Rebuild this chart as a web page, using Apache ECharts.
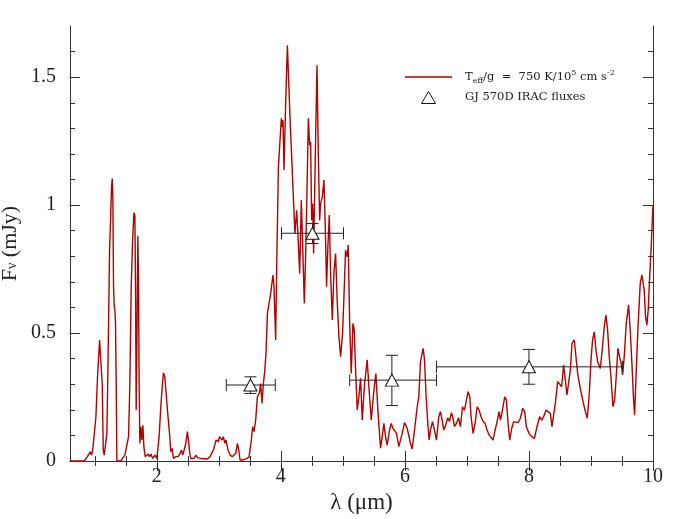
<!DOCTYPE html>
<html>
<head>
<meta charset="utf-8">
<script src="https://cdn.jsdelivr.net/npm/echarts@6/dist/echarts.min.js"></script>
<style>
  html, body { margin: 0; padding: 0; background: #fff; }
  #chart { width: 694px; height: 519px; }
</style>
</head>
<body>
<div id="chart"></div>
<script>
// model spectrum (micron, mJy)
const wlJH = [0.6,0.83,0.88,0.926,0.948,0.969,0.991,1.018,1.044,1.077,1.098,1.12,1.136,1.152,1.173,1.195,1.216,1.238,1.254,1.27,1.281,1.291,1.302,1.313,1.324,1.334,1.345,1.356,1.42,1.447,1.485,1.517,1.544,1.565,1.587,1.608,1.63,1.646,1.656,1.667,1.678,1.694,1.705,1.715,1.726,1.742,1.758,1.775,1.791,1.812,1.839,1.86,1.882,1.903,1.935,1.968,2.0];
const fJH = [0,0,0.017,0.036,0.023,0.05,0.056,0.173,0.33,0.473,0.479,0.30,0.043,0.023,0.017,0.108,0.434,0.824,0.941,1.072,1.104,1.03,0.681,0.603,0.59,0.538,0.30,0,0,0.01,0.023,0.017,0.095,0.30,0.681,0.85,0.97,0.96,0.694,0.199,0.434,0.88,0.694,0.30,0.069,0.134,0.082,0.14,0.056,0.017,0.01,0.027,0.017,0.027,0.01,0.023,0.01];

const wlKL = [2.037,2.064,2.091,2.107,2.128,2.15,2.171,2.187,2.209,2.225,2.247,2.268,2.306,2.343,2.375,2.397,2.418,2.44,2.467,2.493,2.515,2.531,2.547,2.574,2.601,2.628,2.655,2.708,2.762,2.815,2.858,2.885,2.912,2.934,2.955,2.977,2.993,3.009,3.03,3.052,3.073,3.095,3.116,3.148,3.181,3.218,3.245,3.272,3.299,3.32,3.342,3.379,3.433,3.486,3.503,3.524,3.545,3.567,3.594,3.621,3.653,3.674,3.696,3.717,3.739,3.76];
const fKL = [0.095,0.212,0.303,0.345,0.329,0.264,0.199,0.206,0.095,0.036,0.049,0.01,0.017,0.017,0.03,0.043,0.023,0.043,0.069,0.115,0.069,0.03,0.01,0.017,0.01,0.023,0.013,0.01,0.009,0.008,0.017,0.03,0.043,0.062,0.082,0.089,0.075,0.095,0.102,0.082,0.095,0.069,0.082,0.043,0.023,0.017,0.01,0.03,0.069,0.043,0.004,0.004,0.008,0.014,0.017,0.082,0.134,0.115,0.16,0.251,0.264,0.303,0.225,0.30,0.349,0.42];

const wlM = [3.783,3.809,3.836,3.873,3.889,3.916,3.932,3.96,3.98,4.008,4.024,4.034,4.05,4.077,4.105,4.12,4.147,4.168,4.21,4.227,4.254,4.275,4.303,4.33,4.346,4.378,4.4,4.427,4.443,4.464,4.48,4.496,4.512,4.528,4.556,4.582,4.604,4.625,4.641,4.668,4.694,4.716,4.737,4.758,4.781,4.802,4.829,4.855,4.882,4.91,4.936,4.963,4.995];
const fM = [0.577,0.583,0.655,0.727,0.681,0.473,0.746,1.15,1.15,1.339,1.306,1.332,1.137,1.397,1.625,1.618,1.345,1.345,0.98,0.889,0.98,0.889,0.733,1.02,1.02,0.616,0.811,1.124,1.339,1.234,1.247,0.941,1.006,0.811,1.202,1.547,1.202,0.941,1.006,1.032,1.098,0.915,0.681,0.837,0.961,0.733,0.551,0.733,0.811,0.616,0.486,0.408,0.499];

const wlMid = [5.017,5.043,5.07,5.086,5.108,5.135,5.162,5.183,5.205,5.231,5.258,5.285,5.312,5.35,5.392,5.419,5.457,5.5,5.532,5.564,5.607,5.634,5.661,5.688,5.714,5.752,5.779,5.806,5.833,5.865,5.902,5.929,5.956,5.994,6.036,6.063,6.09,6.117,6.155,6.198,6.224,6.251,6.294,6.316,6.342,6.369,6.391,6.412,6.445,6.477,6.509,6.546,6.573,6.6,6.627,6.659,6.691,6.718,6.75,6.777,6.799,6.831,6.863,6.895,6.928,6.96,6.992,7.019,7.046,7.067,7.099,7.132,7.164,7.196,7.228,7.26,7.293,7.325,7.357,7.389,7.421,7.454,7.486];
const fMid = [0.642,0.824,0.798,0.844,0.551,0.342,0.538,0.512,0.355,0.199,0.251,0.323,0.16,0.303,0.395,0.29,0.16,0.277,0.342,0.199,0.05,0.095,0.147,0.095,0.062,0.121,0.147,0.128,0.134,0.108,0.056,0.05,0.108,0.15,0.128,0.121,0.069,0.047,0.121,0.212,0.251,0.388,0.44,0.395,0.251,0.147,0.082,0.121,0.154,0.121,0.082,0.173,0.193,0.16,0.121,0.141,0.169,0.154,0.189,0.167,0.134,0.147,0.169,0.134,0.212,0.199,0.238,0.271,0.251,0.173,0.108,0.147,0.212,0.199,0.173,0.154,0.147,0.121,0.102,0.095,0.082,0.121,0.154];

const wlLong = [7.518,7.54,7.572,7.609,7.636,7.663,7.69,7.722,7.754,7.786,7.824,7.862,7.899,7.931,7.958,8.001,8.044,8.087,8.13,8.173,8.205,8.237,8.275,8.302,8.345,8.371,8.398,8.425,8.463,8.495,8.527,8.559,8.586,8.613,8.645,8.667,8.694,8.731,8.758,8.785,8.817,8.855,8.897,8.94,8.973,9.0,9.026,9.053,9.08,9.107,9.15,9.182,9.214,9.241,9.268,9.295,9.322,9.354,9.381,9.407,9.434,9.461,9.488,9.509,9.536,9.569,9.606,9.633,9.66,9.687,9.703,9.724,9.756,9.794,9.821,9.837,9.858,9.88,9.901,9.923,9.944,9.971,10.0];
const fLong = [0.193,0.16,0.199,0.251,0.238,0.147,0.082,0.128,0.154,0.154,0.15,0.167,0.206,0.193,0.134,0.108,0.095,0.088,0.134,0.173,0.16,0.173,0.199,0.206,0.186,0.134,0.134,0.225,0.31,0.316,0.29,0.375,0.316,0.258,0.251,0.355,0.46,0.473,0.407,0.342,0.297,0.251,0.206,0.167,0.264,0.395,0.473,0.505,0.434,0.388,0.362,0.434,0.525,0.57,0.512,0.407,0.329,0.212,0.238,0.329,0.44,0.407,0.381,0.336,0.407,0.538,0.609,0.512,0.381,0.238,0.18,0.316,0.512,0.694,0.727,0.733,0.668,0.564,0.531,0.59,0.707,0.837,1.0];

// GJ 570D IRAC photometry
const iracWl = [3.51, 4.51, 5.79, 8.0];
const iracWlLo = [3.12, 4.01, 5.11, 6.51];
const iracWlHi = [3.91, 5.01, 6.51, 9.51];
const iracFlux = [0.297, 0.89, 0.316, 0.368];
const iracFluxLo = [0.264, 0.85, 0.217, 0.30];
const iracFluxHi = [0.329, 0.928, 0.413, 0.436];

// ticks
const xMajor = [2, 4, 6, 8, 10];
const xMinor = [1, 1.5, 2.5, 3, 3.5, 4.5, 5, 5.5, 6.5, 7, 7.5, 8.5, 9, 9.5];
const yMajor = [0, 0.5, 1, 1.5];
const yMinor = [0.1, 0.2, 0.3, 0.4, 0.6, 0.7, 0.8, 0.9, 1.1, 1.2, 1.3, 1.4, 1.6];

const wave = [].concat(wlJH, wlKL, wlM, wlMid, wlLong);
const flux = [].concat(fJH, fKL, fM, fMid, fLong);
const spectrum = wave.map((w, i) => [w, flux[i]]);
const irac = iracWl.map((w, i) => [w, iracFlux[i], iracWlLo[i], iracWlHi[i], iracFluxLo[i], iracFluxHi[i]]);

const AX = '#333';
const SERIF = 'Liberation Serif';
const RED = '#b00000';

function xAxis(pos, ticks, len, labels) {
  return {
    type: 'value', position: pos, min: 0.6, max: 10,
    axisLine: { show: len > 6, lineStyle: { color: AX, width: 1 } },
    axisTick: { show: true, inside: true, length: len, customValues: ticks, lineStyle: { color: AX } },
    axisLabel: labels ? { customValues: ticks, color: '#222', fontFamily: SERIF, fontSize: 20, margin: 6 } : { show: false },
    splitLine: { show: false }
  };
}
function yAxis(pos, ticks, len, labels) {
  return {
    type: 'value', position: pos, min: 0, max: 1.7,
    axisLine: { show: len > 6, lineStyle: { color: AX, width: 1 } },
    axisTick: { show: true, inside: true, length: len, customValues: ticks, lineStyle: { color: AX } },
    axisLabel: labels ? { customValues: ticks, color: '#222', fontFamily: SERIF, fontSize: 20, margin: 14 } : { show: false },
    splitLine: { show: false }
  };
}

const xAxes = [xAxis('bottom', xMajor, 10, true), xAxis('bottom', xMinor, 5), xAxis('top', xMajor, 10), xAxis('top', xMinor, 5)];
xAxes[0].name = 'λ (μm)';
xAxes[0].nameLocation = 'middle';
xAxes[0].nameGap = 26;
xAxes[0].nameTextStyle = { color: '#222', fontFamily: SERIF, fontSize: 23 };

const yAxes = [yAxis('left', yMajor, 10, true), yAxis('left', yMinor, 5), yAxis('right', yMajor, 10), yAxis('right', yMinor, 5)];
yAxes[0].name = '{f|F}{s|ν}{f| (mJy)}';
yAxes[0].nameLocation = 'middle';
yAxes[0].nameGap = 51;
yAxes[0].nameMoveOverlap = false;
yAxes[0].nameRotate = 90;
yAxes[0].nameTextStyle = {
  rich: {
    f: { color: '#222', fontFamily: SERIF, fontSize: 22, lineHeight: 18 },
    s: { color: '#222', fontFamily: SERIF, fontSize: 14, lineHeight: 8, verticalAlign: 'bottom' }
  }
};

const chart = echarts.init(document.getElementById('chart'), null, { renderer: 'canvas' });

chart.setOption({
  animation: false,
  backgroundColor: '#fff',
  grid: { left: 70, right: 41, top: 26, bottom: 58, outerBoundsMode: 'none' },
  xAxis: xAxes,
  yAxis: yAxes,
  legend: {
    left: 405, top: 69, padding: 0, orient: 'vertical',
    itemWidth: 47, itemHeight: 12, itemGap: 6,
    selectedMode: false,
    data: [
      { name: 'model', icon: 'path://M0,0H47V1.3H0Z' },
      { name: 'irac', icon: 'path://M7,0L14,12L0,12Z', itemStyle: { color: '#fff', borderColor: '#111', borderWidth: 1 } }
    ],
    formatter: function (name) {
      if (name === 'model') {
        return '{n|T}{sub|eff}{n|/g  =  750 K/10}{sup|5}{n| cm s}{sup|-2}';
      }
      return '{n|GJ 570D IRAC fluxes}';
    },
    textStyle: {
      padding: [0, 0, 0, 8],
      rich: {
        n: { fontFamily: 'DejaVu Serif', fontSize: 11.5, color: '#222', lineHeight: 16 },
        sub: { fontFamily: 'DejaVu Serif', fontSize: 8, color: '#222', lineHeight: 8, verticalAlign: 'bottom' },
        sup: { fontFamily: 'DejaVu Serif', fontSize: 8, color: '#222', lineHeight: 9, verticalAlign: 'top' }
      }
    }
  },
  series: [
    {
      name: 'model',
      type: 'line',
      data: spectrum,
      showSymbol: false,
      color: RED,
      lineStyle: { color: RED, width: 1.4 },
      z: 2
    },
    {
      name: 'errors',
      type: 'custom',
      data: irac,
      encode: { x: 0, y: 1 },
      clip: false,
      z: 3,
      renderItem: function (params, api) {
        const p = api.coord([api.value(0), api.value(1)]);
        const xl = api.coord([api.value(2), api.value(1)])[0];
        const xh = api.coord([api.value(3), api.value(1)])[0];
        const yl = api.coord([api.value(0), api.value(4)])[1];
        const yh = api.coord([api.value(0), api.value(5)])[1];
        const c = 6;
        const st = { stroke: '#222', lineWidth: 1 };
        const seg = (x1, y1, x2, y2) => ({ type: 'line', shape: { x1, y1, x2, y2 }, style: st });
        return {
          type: 'group',
          children: [
            seg(xl, p[1], xh, p[1]),
            seg(xl, p[1] - c, xl, p[1] + c),
            seg(xh, p[1] - c, xh, p[1] + c),
            seg(p[0], yl, p[0], yh),
            seg(p[0] - c, yl, p[0] + c, yl),
            seg(p[0] - c, yh, p[0] + c, yh)
          ]
        };
      }
    },
    {
      name: 'irac',
      type: 'scatter',
      data: irac.map(d => [d[0], d[1]]),
      symbol: 'triangle',
      symbolSize: [13, 12],
      itemStyle: { color: '#fff', borderColor: '#111', borderWidth: 1, opacity: 1 },
      z: 4
    }
  ]
});
</script>
</body>
</html>
